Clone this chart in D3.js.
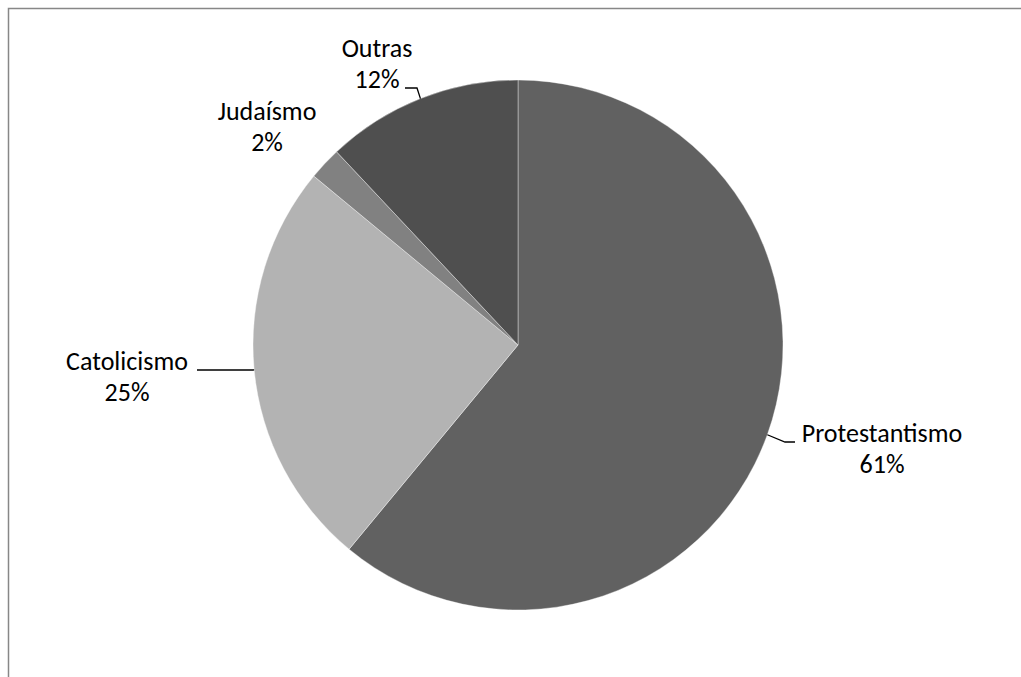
<!DOCTYPE html>
<html>
<head>
<meta charset="utf-8">
<script src="https://cdn.jsdelivr.net/npm/d3@7"></script>
<style>
  body { margin: 0; background: #fff; }
  svg text { font-family: Carlito, Lato, "Open Sans", sans-serif; font-size: 26px; fill: #000; }
</style>
</head>
<body>
<svg width="1021" height="677"></svg>
<script>
// Religion shares, clockwise from 12 o'clock
const categories = ['Protestantismo', 'Catolicismo', 'Judaísmo', 'Outras']
const shares = [61, 25, 2, 12]
const percentLabels = ['61%', '25%', '2%', '12%']
const sliceColors = ['#616161', '#b3b3b3', '#818181', '#4f4f4f']

// Where each two-line label sits, relative to pie centre (x of centre, baseline of first line)
const labelOffsets = [[364, 97], [-391, 25], [-251, -225], [-141, -288]]
// elbow of leader line (relative to centre), null when Excel drew none
const leaderElbows = [[[267, 97], [277, 97]], [[-265, 25], [-321, 25]], null, [[-101, -257], [-113, -257]]]

const cx = 518
const cy = 345
const radius = 265
const lineGap = 31

const svg = d3.select('svg')

// chart frame (runs off the right and bottom edges)
svg.append('rect')
  .attr('x', 8.5).attr('y', 8.5)
  .attr('width', 1100).attr('height', 1000)
  .attr('fill', 'none')
  .attr('stroke', '#878787')
  .attr('stroke-width', 1.5)

const pie = d3.pie().sort(null).value((d) => d)
const arcs = pie(shares)
const arc = d3.arc().innerRadius(0).outerRadius(radius)

const g = svg.append('g').attr('transform', `translate(${cx},${cy})`)

g.selectAll('path')
  .data(arcs)
  .enter()
  .append('path')
  .attr('d', arc)
  .attr('fill', (d, i) => sliceColors[i])
  .attr('stroke', '#ffffff')
  .attr('stroke-opacity', 0.5)
  .attr('stroke-width', 0.75)

// leader lines: from mid-angle point on the rim to the elbow and out to the label
arcs.forEach((d, i) => {
  if (!leaderElbows[i]) return
  const mid = (d.startAngle + d.endAngle) / 2
  const rim = [radius * Math.sin(mid), -radius * Math.cos(mid)]
  const pts = [rim].concat(leaderElbows[i])
  g.append('path')
    .attr('d', d3.line()(pts))
    .attr('fill', 'none')
    .attr('stroke', '#000')
    .attr('stroke-width', 1.3)
})

const labels = g.selectAll('text.lbl')
  .data(arcs)
  .enter()
  .append('text')
  .attr('class', 'lbl')
  .attr('text-anchor', 'middle')
  .attr('transform', (d, i) => `translate(${labelOffsets[i][0]},${labelOffsets[i][1]})`)

labels.append('tspan')
  .attr('x', 0).attr('y', 0)
  .text((d, i) => categories[i])
labels.append('tspan')
  .attr('x', 0).attr('y', lineGap)
  .text((d, i) => percentLabels[i])
</script>
</body>
</html>
